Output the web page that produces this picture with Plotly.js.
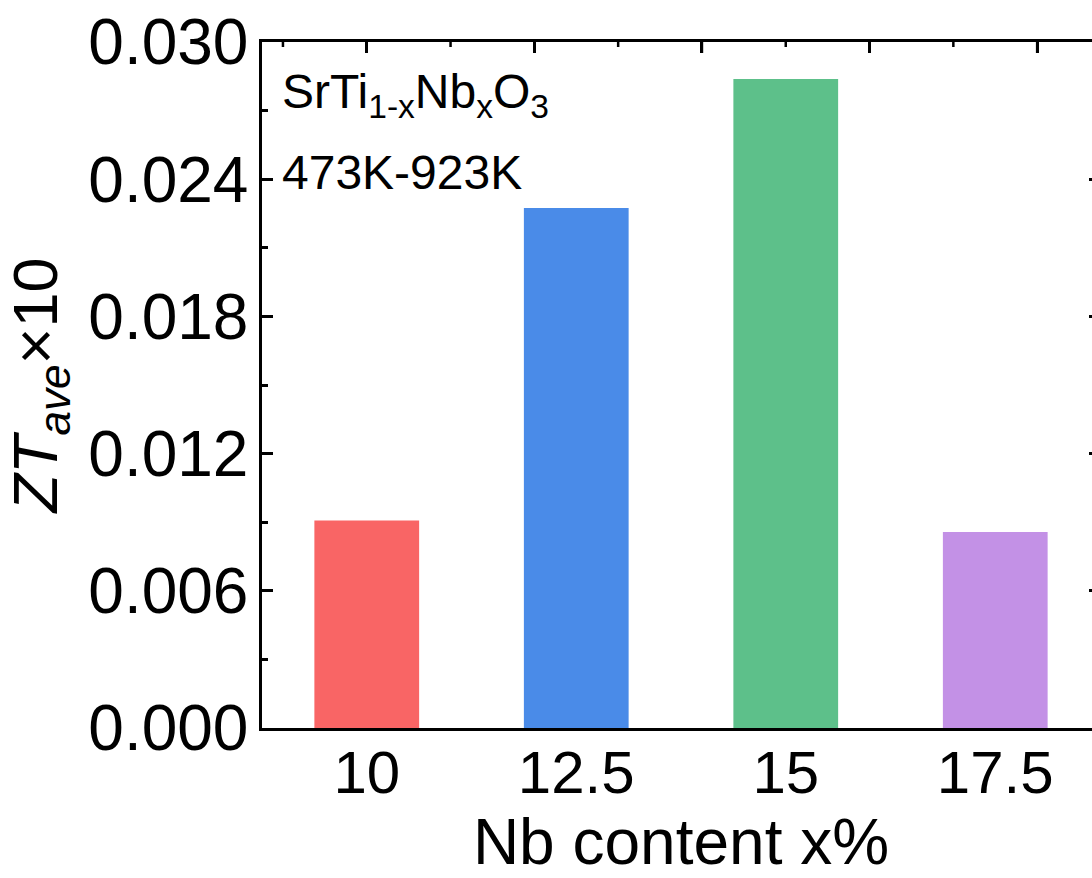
<!DOCTYPE html>
<html>
<head>
<meta charset="utf-8">
<script src="https://cdn.plot.ly/plotly-3.0.1.min.js"></script>
<style>
html,body{margin:0;padding:0;overflow:hidden;background:#fff;width:1092px;height:878px;}
#chart{width:1110px;height:878px;}
</style>
</head>
<body>
<div id="chart"></div>
<script>
const categories = ["10", "12.5", "15", "17.5"];
const ztValues = [0.00907, 0.02274, 0.02838, 0.00857];
const barColors = ["#F96565", "#4A8BE8", "#5DC08A", "#C391E6"];
const yTickValues = [0, 0.006, 0.012, 0.018, 0.024, 0.030];
const topMajorTicks = [0, 0.8, 1.6, 2.4, 3.2];
const topMinorTicks = [-0.4, 0.4, 1.2, 2.0, 2.8];
const annotationLines = ["SrTi<sub>1-x</sub>Nb<sub>x</sub>O<sub>3</sub>", "473K-923K"];

const FONT = "Liberation Sans, Arial, sans-serif";
const PLOT_H = 686;

const helper = (xa, ya) => ({
  type: "scatter", x: [0], y: [0], xaxis: xa, yaxis: ya, mode: "markers",
  marker: {opacity: 0, size: 1}, hoverinfo: "skip", showlegend: false
});

const data = [helper("x", "y"), {
  type: "bar",
  x: categories,
  y: ztValues,
  xaxis: "x2",
  yaxis: "y",
  width: 0.5,
  marker: {color: barColors, line: {width: 0}},
  hoverinfo: "x+y"
}, helper("x", "y2")];

// top-axis tick marks (fallback so they are always visible)
const tickShape = (v, len) => ({
  type: "line", xref: "x", yref: "paper",
  x0: v, x1: v, y0: 1, y1: 1 - len / PLOT_H,
  line: {color: "#000", width: 2.5}
});
const topShapes = topMajorTicks.map(v => tickShape(v, 11))
  .concat(topMinorTicks.map(v => tickShape(v, 5)));

const layout = {
  width: 1110,
  height: 878,
  margin: {l: 262, r: 10, t: 42, b: 150},
  paper_bgcolor: "#fff",
  plot_bgcolor: "#fff",
  showlegend: false,
  font: {family: FONT, color: "#000"},
  xaxis: {
    side: "top",
    type: "linear",
    range: [-0.5, 3.5],
    tickmode: "array",
    tickvals: topMajorTicks,
    ticks: "inside", ticklen: 11, tickwidth: 2.5, tickcolor: "#000",
    showticklabels: false,
    showline: true, linecolor: "#000", linewidth: 2.5,
    showgrid: false, zeroline: false
  },
  xaxis2: {
    overlaying: "x",
    anchor: "y",
    side: "bottom",
    type: "category",
    range: [-0.5, 3.5],
    showline: true, linecolor: "#000", linewidth: 2.5,
    ticks: "", showgrid: false, zeroline: false,
    tickfont: {size: 60, family: FONT},
    ticklabelstandoff: -10,
    title: {text: "Nb content x%", font: {size: 64, family: FONT}, standoff: 0}
  },
  yaxis: {
    range: [0, 0.030],
    tickvals: yTickValues,
    tickformat: ".3f",
    ticks: "inside", ticklen: 11, tickwidth: 2.5, tickcolor: "#000",
    minor: {dtick: 0.003, ticks: "inside", ticklen: 6, tickwidth: 2.5, tickcolor: "#000"},
    showline: true, linecolor: "#000", linewidth: 2.5,
    showgrid: false, zeroline: false,
    tickfont: {size: 64, family: FONT},
    ticklabelstandoff: -2,
    title: {text: "<i>ZT</i><sub><i>ave</i></sub>×10", font: {size: 63, family: FONT}, standoff: 12}
  },
  yaxis2: {
    overlaying: "y",
    anchor: "x",
    side: "right",
    range: [0, 0.030],
    tickvals: yTickValues,
    ticks: "inside", ticklen: 11, tickwidth: 2.5, tickcolor: "#000",
    showticklabels: false,
    showline: true, linecolor: "#000", linewidth: 2.5,
    showgrid: false, zeroline: false
  },
  shapes: topShapes,
  annotations: [
    {text: annotationLines[0], xref: "paper", yref: "paper", x: 0.022, y: 0.970,
     xanchor: "left", yanchor: "top", showarrow: false, font: {size: 48, family: FONT}},
    {text: annotationLines[1], xref: "paper", yref: "paper", x: 0.022, y: 0.810,
     xanchor: "left", yanchor: "middle", showarrow: false, font: {size: 48, family: FONT}}
  ]
};

Plotly.newPlot("chart", data, layout, {displayModeBar: false, responsive: false});
</script>
</body>
</html>
